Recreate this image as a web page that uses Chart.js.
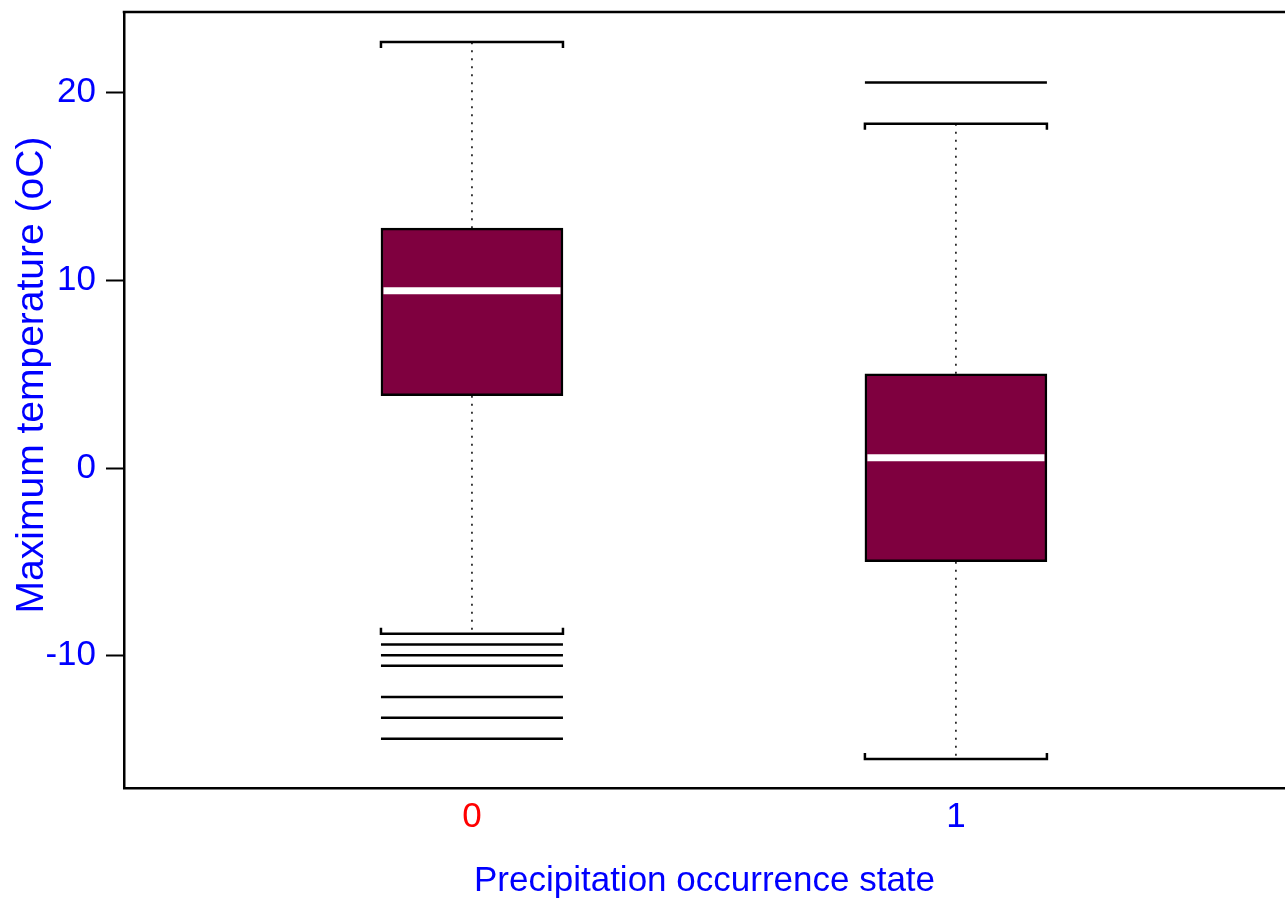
<!DOCTYPE html>
<html lang="en">
<head>
    <meta charset="UTF-8">
    <title>Maximum temperature by precipitation occurrence state</title>
    <script src="https://cdn.jsdelivr.net/npm/chart.js@4.4.0/dist/chart.umd.min.js"></script>
    <style>
        body { margin: 0; background: #fff; }
        #box-chart { display: block; }
    </style>
</head>
<body>
    <canvas id="box-chart" width="1285" height="903"></canvas>

    <script>
        // Box plot statistics
        const groups = [0, 1];
        const q1 = [3.85, -4.99];
        const q3 = [12.78, 5.02];
        const medians = [9.44, 0.55];
        const whiskerLow = [-8.83, -15.50];
        const whiskerHigh = [22.70, 18.34];
        const outliers = [
            [-9.41, -9.98, -10.53, -12.20, -13.31, -14.42],
            [20.54]
        ];
        const yTicks = [-10, 0, 10, 20];
        const tickColors = ['#FF0000', '#0000FF'];

        const FONT = "'Liberation Sans', Arial, sans-serif";

        // whiskers, caps, medians and outliers on top of the bars
        const boxExtras = {
            id: 'boxExtras',
            afterDatasetsDraw(chart) {
                const { ctx, scales: { x, y } } = chart;
                const meta = chart.getDatasetMeta(0);
                ctx.save();
                groups.forEach((g, i) => {
                    const cx = x.getPixelForValue(g);
                    const half = meta.data[i].width / 2;
                    const left = cx - half, right = cx + half;

                    // dotted whiskers
                    ctx.strokeStyle = '#000';
                    ctx.lineWidth = 1.5;
                    ctx.setLineDash([2, 6]);
                    ctx.beginPath();
                    ctx.moveTo(cx, y.getPixelForValue(q3[i]));
                    ctx.lineTo(cx, y.getPixelForValue(whiskerHigh[i]));
                    ctx.moveTo(cx, y.getPixelForValue(q1[i]));
                    ctx.lineTo(cx, y.getPixelForValue(whiskerLow[i]));
                    ctx.stroke();
                    ctx.setLineDash([]);

                    // caps bent toward the box
                    ctx.lineWidth = 2.5;
                    const hi = y.getPixelForValue(whiskerHigh[i]);
                    const lo = y.getPixelForValue(whiskerLow[i]);
                    ctx.beginPath();
                    ctx.moveTo(left, hi + 6); ctx.lineTo(left, hi); ctx.lineTo(right, hi); ctx.lineTo(right, hi + 6);
                    ctx.moveTo(left, lo - 6); ctx.lineTo(left, lo); ctx.lineTo(right, lo); ctx.lineTo(right, lo - 6);
                    ctx.stroke();

                    // outliers as horizontal lines
                    ctx.beginPath();
                    outliers[i].forEach(v => {
                        const py = y.getPixelForValue(v);
                        ctx.moveTo(left, py);
                        ctx.lineTo(right, py);
                    });
                    ctx.stroke();

                    // median
                    ctx.strokeStyle = '#FFFFFF';
                    ctx.lineWidth = 7;
                    const my = y.getPixelForValue(medians[i]);
                    ctx.beginPath();
                    ctx.moveTo(left + 2.5, my);
                    ctx.lineTo(right - 2.5, my);
                    ctx.stroke();
                });

                // top frame line
                const area = chart.chartArea;
                ctx.strokeStyle = '#000';
                ctx.lineWidth = 2.5;
                ctx.beginPath();
                ctx.moveTo(area.left - 1.25, area.top);
                ctx.lineTo(area.right, area.top);
                ctx.stroke();

                // y axis title
                ctx.fillStyle = '#0000FF';
                ctx.font = '39px ' + FONT;
                ctx.textAlign = 'center';
                ctx.textBaseline = 'middle';
                ctx.translate(32, area.top + (area.bottom - area.top) / 2 - 25);
                ctx.rotate(-Math.PI / 2);
                ctx.fillText('Maximum temperature (oC)', 0, 0);
                ctx.restore();
            }
        };

        const ctx = document.getElementById('box-chart').getContext('2d');
        new Chart(ctx, {
            type: 'bar',
            data: {
                datasets: [{
                    label: 'Interquartile range',
                    data: groups.map((g, i) => ({ x: g, y: [q1[i], q3[i]] })),
                    backgroundColor: '#7F003F',
                    borderColor: '#000000',
                    borderWidth: 2.5,
                    borderSkipped: false,
                    barThickness: 182
                }]
            },
            options: {
                responsive: false,
                animation: false,
                layout: { padding: { top: 12, right: 0, left: 0, bottom: 0 } },
                plugins: {
                    legend: { display: false },
                    tooltip: { enabled: false }
                },
                scales: {
                    x: {
                        type: 'linear',
                        offset: false,
                        min: -0.719,
                        max: 1.68,
                        afterBuildTicks: scale => { scale.ticks = groups.map(v => ({ value: v })); },
                        afterFit: scale => {
                            scale.height = 115;
                            scale.paddingLeft = 0;
                            scale.paddingRight = 0;
                        },
                        grid: { display: false },
                        border: { display: true, color: '#000', width: 2.5 },
                        ticks: {
                            padding: 0,
                            font: { family: FONT, size: 35 },
                            color: c => tickColors[groups.indexOf(c.tick.value)] || '#0000FF',
                            callback: v => String(v)
                        },
                        title: {
                            display: true,
                            text: 'Precipitation occurrence state',
                            color: '#0000FF',
                            font: { family: FONT, size: 35 },
                            padding: { top: 0, bottom: 1 }
                        }
                    },
                    y: {
                        min: -17.05,
                        max: 24.3,
                        afterBuildTicks: scale => { scale.ticks = yTicks.map(v => ({ value: v })); },
                        afterFit: scale => {
                            scale.width = 124;
                            scale.paddingTop = 0;
                            scale.paddingBottom = 0;
                        },
                        grid: {
                            drawOnChartArea: false,
                            drawTicks: true,
                            tickLength: 18,
                            tickWidth: 2,
                            tickColor: '#000'
                        },
                        border: { display: true, color: '#000', width: 2.5 },
                        ticks: {
                            padding: 10,
                            color: '#0000FF',
                            font: { family: FONT, size: 35 }
                        }
                    }
                }
            },
            plugins: [boxExtras]
        });
    </script>
</body>
</html>
